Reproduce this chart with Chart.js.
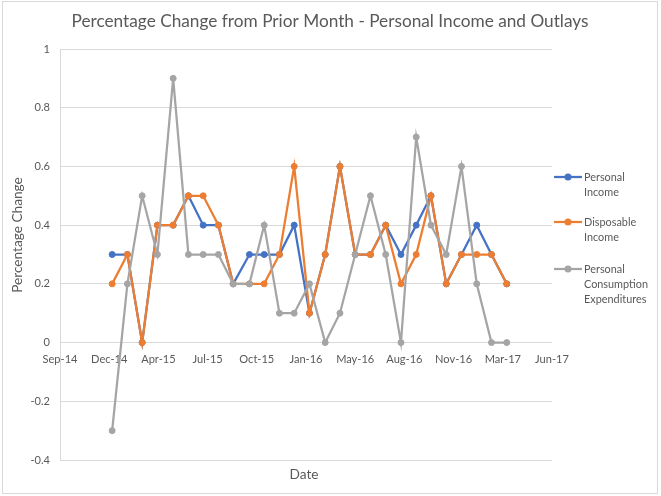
<!DOCTYPE html>
<html><head><meta charset="utf-8">
<script src="https://cdn.jsdelivr.net/npm/chart.js@4.4.1/dist/chart.umd.min.js"></script>
<style>html,body{margin:0;padding:0;background:#fff;overflow:hidden}#wrap{width:661px;height:496px;position:relative}canvas{display:block}</style>
</head><body><div id="wrap"><canvas id="c" width="661" height="496"></canvas></div>
<script>
const chartTitle = "Percentage Change from Prior Month - Personal Income and Outlays";
const yAxisTitle = "Percentage Change";
const xAxisTitle = "Date";
const dates = ["2015-01-02","2015-02-02","2015-03-04","2015-04-04","2015-05-06","2015-06-06","2015-07-06","2015-08-06","2015-09-05",
               "2015-10-08","2015-11-07","2015-12-08","2016-01-07","2016-02-07","2016-03-10","2016-04-09","2016-05-10","2016-06-10",
               "2016-07-11","2016-08-11","2016-09-11","2016-10-11","2016-11-11","2016-12-12","2017-01-12","2017-02-11","2017-03-14"];
const personalIncome   = [0.3,0.3,0.0,0.4,0.4,0.5,0.4,0.4,0.2,0.3,0.3,0.3,0.4,0.1,0.3,0.6,0.3,0.3,0.4,0.3,0.4,0.5,0.2,0.3,0.4,0.3,0.2];
const disposableIncome = [0.2,0.3,0.0,0.4,0.4,0.5,0.5,0.4,0.2,0.2,0.2,0.3,0.6,0.1,0.3,0.6,0.3,0.3,0.4,0.2,0.3,0.5,0.2,0.3,0.3,0.3,0.2];
const consumption      = [-0.3,0.2,0.5,0.3,0.9,0.3,0.3,0.3,0.2,0.2,0.4,0.1,0.1,0.2,0.0,0.1,0.3,0.5,0.3,0.0,0.7,0.4,0.3,0.6,0.2,0.0,0.0];
const seriesNames = ["Personal Income","Disposable Income","Personal Consumption Expenditures"];
const legendLines = [["Personal","Income"],["Disposable","Income"],["Personal","Consumption","Expenditures"]];
const xTickLabels = ["Sep-14","Dec-14","Apr-15","Jul-15","Oct-15","Jan-16","May-16","Aug-16","Nov-16","Mar-17","Jun-17"];
const yTickLabels = ["-0.4","-0.2","0","0.2","0.4","0.6","0.8","1"];
// x axis in Excel serial days
const xMin = 41900, xMax = 42900, xStep = 100;

const COLORS = ["#4472C4","#ED7D31","#A5A5A5"];
const TEXT = "#595959";
const FONT = "Lato, 'Open Sans', sans-serif";

function toSerial(d){ const [y,mo,da]=d.split("-").map(Number); return Date.UTC(y,mo-1,da)/86400000 + 25569; }
const mctx = document.createElement("canvas").getContext("2d");
function fit(text, target, base){ mctx.font = base+"px "+FONT; return base*target/mctx.measureText(text).width; }
const titleSize = fit(chartTitle, 517, 18.67);
const tickSize = fit("Sep-14", 35, 12);
const legendSize = fit("Consumption", 64, 12);
const axisTitleSize = fit("Date", 29, 15);

const allSeries = [personalIncome, disposableIncome, consumption];
const datasets = allSeries.map((vals,i)=>({
  label: seriesNames[i],
  data: dates.map((d,j)=>({x: toSerial(d), y: vals[j]})),
  borderColor: COLORS[i], backgroundColor: COLORS[i],
  pointBackgroundColor: COLORS[i], pointBorderColor: COLORS[i],
  borderWidth: 2.25, pointRadius: 3, pointBorderWidth: 1, tension: 0,
  order: 3 - i
}));

const decor = {
  id: "decor",
  afterDraw(chart){
    const ctx = chart.ctx;
    ctx.save();
    ctx.strokeStyle = "#D9D9D9"; ctx.lineWidth = 1;
    ctx.strokeRect(2.5, 1.5, 655, 492);
    ctx.fillStyle = TEXT; ctx.textAlign = "center"; ctx.textBaseline = "middle";
    ctx.font = titleSize+"px "+FONT;
    ctx.fillText(chartTitle, 330, 21);
    ctx.font = axisTitleSize+"px "+FONT;
    ctx.fillText(xAxisTitle, 304, 475);
    ctx.save(); ctx.translate(18, 235); ctx.rotate(-Math.PI/2);
    ctx.fillText(yAxisTitle, 0, 0); ctx.restore();
    // legend
    const ys = [177, 222, 269];
    ctx.font = legendSize+"px "+FONT; ctx.textAlign = "left";
    legendLines.forEach((lines,i)=>{
      const y = ys[i];
      ctx.strokeStyle = COLORS[i]; ctx.lineWidth = 2.25;
      ctx.beginPath(); ctx.moveTo(554, y); ctx.lineTo(582, y); ctx.stroke();
      ctx.fillStyle = COLORS[i];
      ctx.beginPath(); ctx.arc(568, y, 3.5, 0, Math.PI*2); ctx.fill();
      ctx.fillStyle = TEXT;
      lines.forEach((t,k)=>ctx.fillText(t, 584, y + k*15));
    });
    ctx.restore();
  }
};

new Chart(document.getElementById("c"), {
  type: "line",
  data: { datasets },
  plugins: [decor],
  options: {
    responsive: false, animation: false, devicePixelRatio: 1,
    layout: { padding: { top: 49, right: 109, bottom: 36, left: 0 } },
    plugins: { legend: { display: false }, tooltip: { enabled: false }, title: { display: false } },
    scales: {
      x: {
        type: "linear", min: xMin, max: xMax, position: { y: 0 },
        grid: { display: false, drawTicks: false }, border: { display: false },
        ticks: { stepSize: xStep, padding: 10, color: TEXT, font: { family: FONT, size: tickSize },
                 maxRotation: 0, autoSkip: false, callback: (v,i)=>xTickLabels[i] }
      },
      y: {
        min: -0.4, max: 1,
        afterFit(s){ s.width = 60; },
        grid: { color: "#D9D9D9", lineWidth: 1, drawTicks: false },
        border: { display: true, color: "#D9D9D9" },
        ticks: { stepSize: 0.2, padding: 10, color: TEXT, font: { family: FONT, size: tickSize },
                 callback: (v,i)=>yTickLabels[i] }
      }
    }
  }
});
</script></body></html>
